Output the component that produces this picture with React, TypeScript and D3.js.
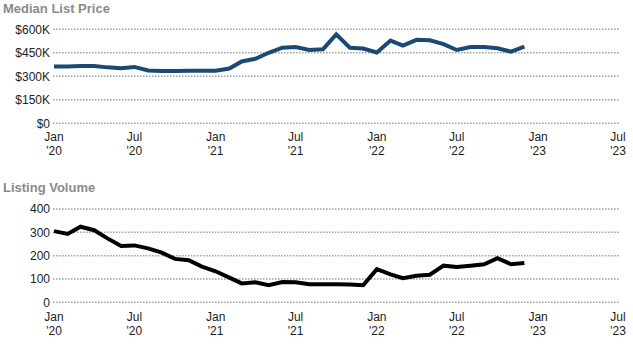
import React from "react";
import * as d3 from "d3";

const startMonth = new Date(2020, 0, 1);
const priceValues = [362, 363, 365, 365, 357, 352, 360, 337, 334, 334, 336, 336, 336, 350, 395, 412, 450, 483, 487, 468, 472, 568, 482, 477, 452, 528, 496, 533, 530, 505, 468, 487, 487, 479, 457, 490];
const volumeValues = [305, 293, 324, 309, 274, 241, 244, 231, 213, 186, 180, 153, 133, 106, 81, 86, 73, 87, 86, 77, 77, 77, 76, 73, 142, 120, 103, 114, 118, 157, 151, 157, 163, 189, 163, 168];
const priceTicks = [0, 150, 300, 450, 600];
const volumeTicks = [0, 100, 200, 300, 400];
const monthNames = ["Jan", "Jul"];

const W = 633;
const H = 350;
const FONT = "Arial, 'Liberation Sans', sans-serif";

const x = d3.scaleTime().domain([new Date(2020, 0, 1), new Date(2023, 6, 1)]).range([54, 618]);
const xTicks = d3.timeMonth.every(6)!.range(new Date(2020, 0, 1), new Date(2023, 6, 2));

type PanelProps = {
  title: string;
  titleY: number;
  values: number[];
  ticks: number[];
  yMax: number;
  y0: number;
  y1: number;
  fmt: (v: number) => string;
  color: string;
  labelY: number;
};

function Panel({ title, titleY, values, ticks, yMax, y0, y1, fmt, color, labelY }: PanelProps) {
  const y = d3.scaleLinear().domain([0, yMax]).range([y0, y1]);
  const pts = values.map((v, i) => ({ d: d3.timeMonth.offset(startMonth, i), v }));
  const line = d3
    .line<{ d: Date; v: number }>()
    .x((p) => x(p.d))
    .y((p) => y(p.v));
  return (
    <g>
      <text x={3} y={titleY} fontFamily={FONT} fontSize={13} fontWeight="bold" fill="#8a8a8a">
        {title}
      </text>
      {ticks.map((t) => (
        <g key={t}>
          <line
            x1={53}
            x2={620}
            y1={y(t)}
            y2={y(t)}
            stroke="#a0a0a0"
            strokeWidth={1.5}
            strokeDasharray="1.5,1.5"
          />
          <text
            x={50}
            y={y(t)}
            dy="0.35em"
            textAnchor="end"
            fontFamily={FONT}
            fontSize={12}
            fill="#222"
          >
            {fmt(t)}
          </text>
        </g>
      ))}
      {xTicks.map((d) => (
        <text
          key={d.getTime()}
          x={x(d)}
          y={labelY}
          textAnchor="middle"
          fontFamily={FONT}
          fontSize={12}
          fill="#222"
        >
          <tspan x={x(d)}>{monthNames[d.getMonth() === 0 ? 0 : 1]}</tspan>
          <tspan x={x(d)} dy={14}>
            {"'" + String(d.getFullYear()).slice(2)}
          </tspan>
        </text>
      ))}
      <path
        d={line(pts) || ""}
        fill="none"
        stroke={color}
        strokeWidth={4}
        strokeLinejoin="miter"
        strokeLinecap="butt"
      />
    </g>
  );
}

export default function App() {
  return (
    <svg
      width={W}
      height={H}
      viewBox={`0 0 ${W} ${H}`}
      style={{ position: "absolute", left: 0, top: 0, background: "#fff" }}
    >
      <Panel
        title="Median List Price"
        titleY={13}
        values={priceValues}
        ticks={priceTicks}
        yMax={600}
        y0={123.3}
        y1={29.3}
        fmt={(v) => (v === 0 ? "$0" : `$${v}K`)}
        color="#1a4a73"
        labelY={141}
      />
      <Panel
        title="Listing Volume"
        titleY={192}
        values={volumeValues}
        ticks={volumeTicks}
        yMax={400}
        y0={302.3}
        y1={209}
        fmt={(v) => String(v)}
        color="#000"
        labelY={321}
      />
    </svg>
  );
}
